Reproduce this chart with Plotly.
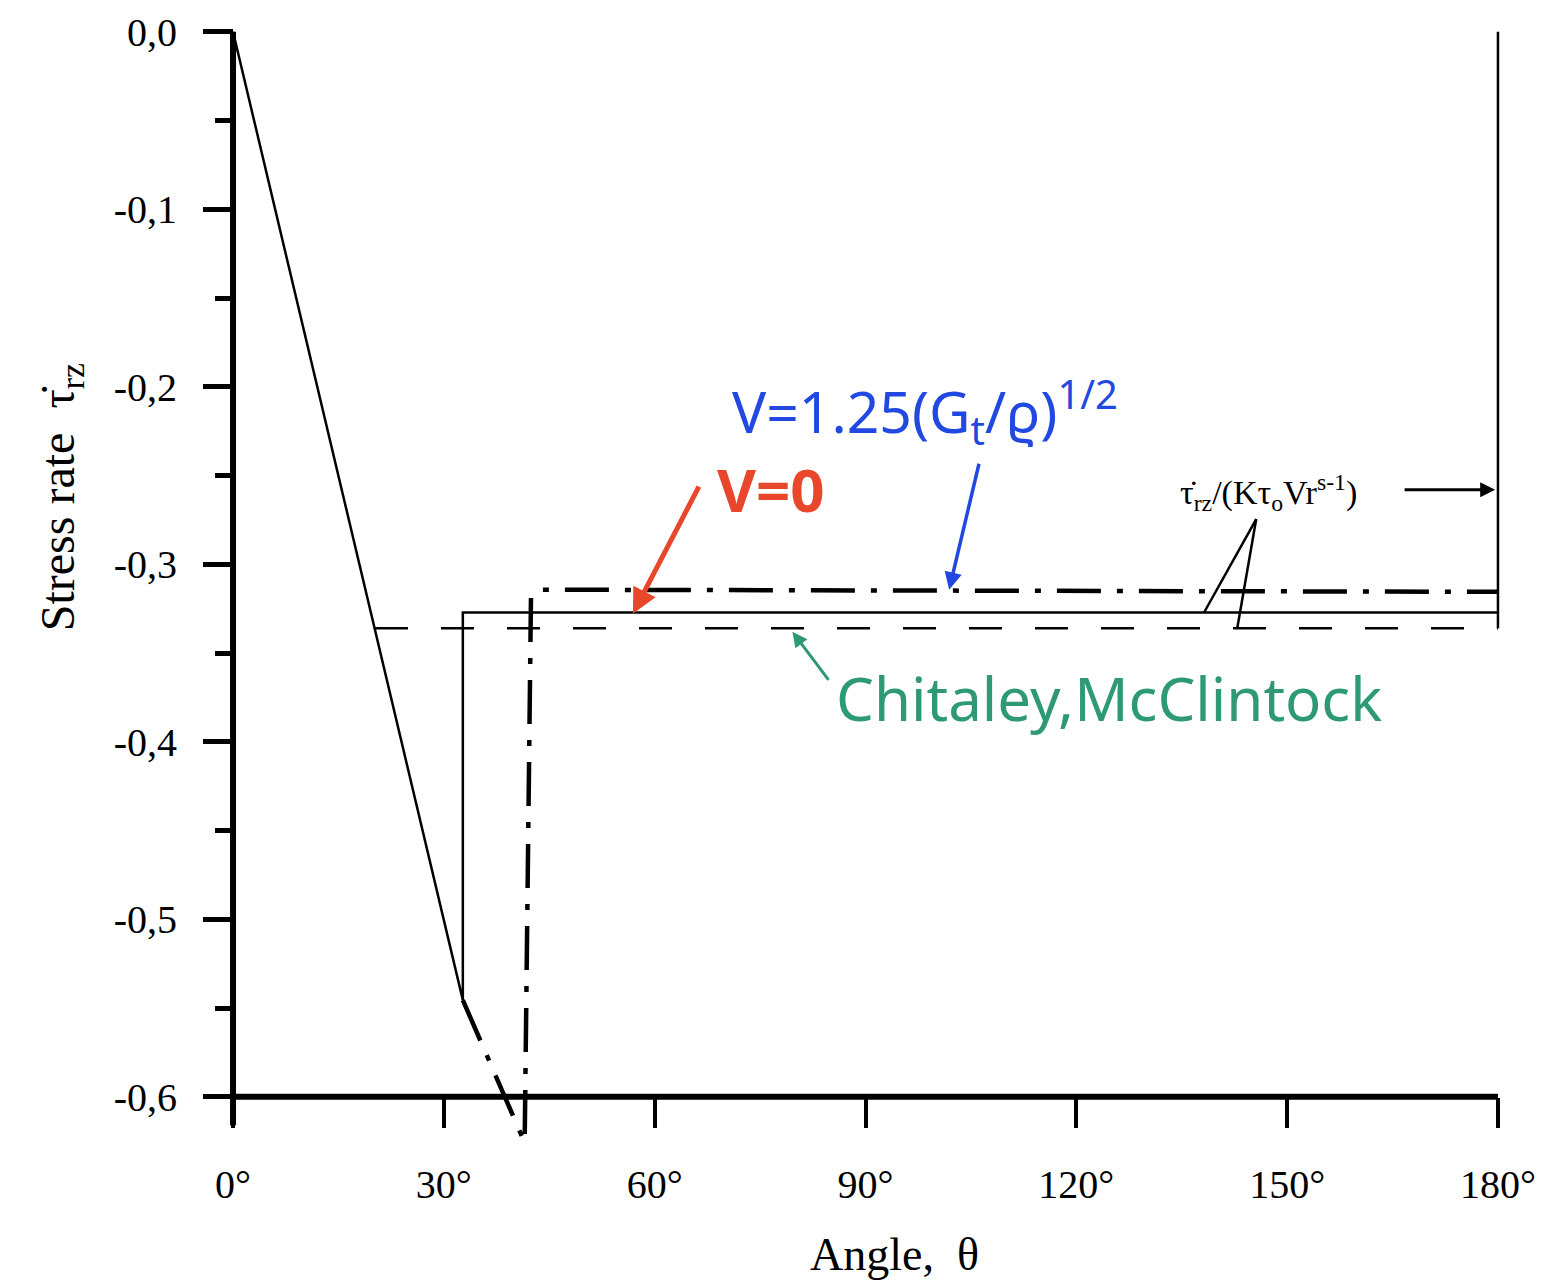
import plotly.graph_objects as go

# ---------------- data ----------------
# V = 0 solution (solid)
v0_theta = [0, 32.7, 32.7, 180, 180, 180]
v0_rate = [0.0, -0.5455, -0.3272, -0.3272, -0.336, 0.0]

# V = 1.25 (G_t/rho)^1/2 solution (dash-dot)
v125_theta = [32.7, 41.5, 42.4, 43.6, 100, 180]
v125_rate = [-0.5455, -0.6258, -0.318, -0.3143, -0.3148, -0.3155]

# Chitaley, McClintock (dashed)
cm_theta = [20.2, 180]
cm_rate = [-0.336, -0.336]

x_ticks = [0, 30, 60, 90, 120, 150, 180]
x_ticklabels = ["0°", "30°", "60°", "90°", "120°", "150°", "180°"]
y_ticks = [0.0, -0.1, -0.2, -0.3, -0.4, -0.5, -0.6]
y_ticklabels = ["0,0", "-0,1", "-0,2", "-0,3", "-0,4", "-0,5", "-0,6"]
y_minor = [-0.05, -0.15, -0.25, -0.35, -0.45, -0.55]

X_RANGE = [-1, 181]
Y_RANGE = [-0.635, 0.01]

SERIF = "Liberation Serif, Times New Roman, serif"
HAND = "Noto Sans, DejaVu Sans, sans-serif"
RED = "#e8472c"
BLUE = "#2148e0"
GREEN = "#2e9a74"

fig = go.Figure()

fig.add_trace(go.Scatter(x=v0_theta, y=v0_rate, mode="lines",
                         line=dict(color="black", width=2.5), name="V=0",
                         showlegend=False))
fig.add_trace(go.Scatter(x=v125_theta, y=v125_rate, mode="lines",
                         line=dict(color="black", width=4.5, dash="44px,16px,6px,16px"),
                         name="V=1.25", showlegend=False))
fig.add_trace(go.Scatter(x=cm_theta, y=cm_rate, mode="lines",
                         line=dict(color="black", width=2.5, dash="33px,33px"),
                         name="Chitaley, McClintock", showlegend=False))

# axis lines drawn in data coordinates
fig.add_shape(type="line", x0=0, x1=0, y0=y_ticks[0], y1=-0.616, xref="x", yref="y",
              line=dict(color="black", width=6))
fig.add_shape(type="line", x0=0, x1=x_ticks[-1], y0=y_ticks[-1], y1=y_ticks[-1],
              xref="x", yref="y", line=dict(color="black", width=6))

# leader lines from the tau label
fig.add_shape(type="line", x0=145.6, y0=-0.2745, x1=138.2, y1=-0.327, xref="x", yref="y",
              line=dict(color="black", width=2.5))
fig.add_shape(type="line", x0=145.6, y0=-0.2745, x1=142.9, y1=-0.336, xref="x", yref="y",
              line=dict(color="black", width=2.5))

x_pos = (0 - X_RANGE[0]) / (X_RANGE[1] - X_RANGE[0])
y_pos = (-0.6 - Y_RANGE[0]) / (Y_RANGE[1] - Y_RANGE[0])

fig.update_layout(
    width=1553, height=1288,
    margin=dict(l=226, r=48, t=10, b=129),
    paper_bgcolor="white", plot_bgcolor="white",
    showlegend=False,
    xaxis=dict(range=X_RANGE, tickvals=x_ticks, ticktext=x_ticklabels,
               ticks="outside", ticklen=30, tickwidth=4, tickcolor="black",
               showline=False, showgrid=False, zeroline=False,
               anchor="free", position=y_pos, ticklabelstandoff=22,
               tickfont=dict(family=SERIF, size=40, color="black")),
    yaxis=dict(range=Y_RANGE, tickvals=y_ticks, ticktext=y_ticklabels,
               ticks="outside", ticklen=30, tickwidth=5, tickcolor="black",
               showline=False, showgrid=False, zeroline=False,
               anchor="free", position=x_pos, ticklabelstandoff=18,
               minor=dict(tickvals=y_minor, ticks="outside", ticklen=18,
                          tickwidth=5, tickcolor="black", showgrid=False),
               tickfont=dict(family=SERIF, size=40, color="black")),
)

# axis titles
fig.add_annotation(text="Angle,  θ", xref="paper", yref="paper", x=0.523, y=-0.083,
                   xanchor="center", yanchor="middle",
                   showarrow=False, font=dict(family=SERIF, size=46, color="black"))
fig.add_annotation(text="Stress rate  τ̇<sub>rz</sub>", xref="paper", yref="paper",
                   x=-0.129, y=0.578, textangle=-90, showarrow=False,
                   xanchor="center", yanchor="middle",
                   font=dict(family=SERIF, size=48, color="black"))

# red V=0 label and arrow
fig.add_annotation(text="<b>V=0</b>", x=76.6, y=-0.2576, xref="x", yref="y",
                   showarrow=False, font=dict(family=HAND, size=60, color=RED))
fig.add_annotation(x=56.9, y=-0.3278, ax=66.4, ay=-0.2554, xref="x", yref="y",
                   axref="x", ayref="y", text="", showarrow=True, arrowhead=2,
                   arrowsize=1, arrowwidth=5, arrowcolor=RED)

# blue V label and arrow
fig.add_annotation(text="V=1.25(G<sub>t</sub>/ϱ)<sup>1/2</sup>", x=70.7, y=-0.214,
                   xref="x", yref="y", xanchor="left", showarrow=False,
                   font=dict(family=HAND, size=57, color=BLUE))
fig.add_annotation(x=101.9, y=-0.3143, ax=106.2, ay=-0.2425, xref="x", yref="y",
                   axref="x", ayref="y", text="", showarrow=True, arrowhead=2,
                   arrowsize=1, arrowwidth=3.5, arrowcolor=BLUE)

# black tau label and arrow
fig.add_annotation(text="τ̇<sub>rz</sub>/(Kτ<sub>o</sub>Vr<sup>s-1</sup>)", x=134.5, y=-0.2593,
                   xref="x", yref="y", xanchor="left", showarrow=False,
                   font=dict(family=SERIF, size=34, color="black"))
fig.add_annotation(x=179.6, y=-0.258, ax=166.5, ay=-0.258, xref="x", yref="y",
                   axref="x", ayref="y", text="", showarrow=True, arrowhead=2,
                   arrowsize=1, arrowwidth=3, arrowcolor="black")

# green Chitaley label and arrow
fig.add_annotation(text="Chitaley,McClintock", x=85.5, y=-0.3755, xref="x", yref="y",
                   xanchor="left", showarrow=False,
                   font=dict(family=HAND, size=60, color=GREEN))
fig.add_annotation(x=79.6, y=-0.338, ax=84.9, ay=-0.366, xref="x", yref="y",
                   axref="x", ayref="y", text="", showarrow=True, arrowhead=2,
                   arrowsize=1, arrowwidth=3, arrowcolor=GREEN)

fig.write_html("out.html")
